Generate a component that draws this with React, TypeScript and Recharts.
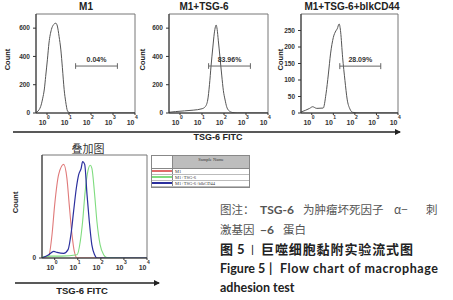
import React from 'react';
import { LineChart, Line, XAxis, YAxis, ReferenceLine, ReferenceArea } from 'recharts';

// log10 fluorescence (x) and event count (y)
const decades = [0, 1, 2, 3, 4];

const m1Log = [-0.5, -0.45, -0.35, -0.29, -0.2, -0.12, -0.06, 0.02, 0.09, 0.2, 0.3, 0.4, 0.47, 0.55, 0.63, 0.7, 0.78, 0.85, 0.93, 1.0, 1.1, 1.3, 2.0, 3.0, 4.0];
const m1Count = [2, 8, 25, 45, 100, 170, 259, 380, 495, 590, 625, 635, 615, 540, 446, 320, 165, 80, 15, 4, 1, 0, 0, 0, 0];

const tsgLog = [-0.5, -0.2, 0.2, 0.6, 1.0, 1.15, 1.26, 1.34, 1.41, 1.49, 1.56, 1.61, 1.64, 1.69, 1.74, 1.82, 1.9, 1.97, 2.05, 2.12, 2.2, 2.4, 2.6, 3.0, 4.0];
const tsgCount = [5, 10, 15, 20, 30, 45, 92, 200, 330, 460, 565, 610, 622, 590, 515, 390, 262, 160, 92, 45, 20, 3, 0, 0, 0];

const blkLog = [-0.5, -0.3, -0.1, 0.04, 0.23, 0.53, 0.66, 0.77, 0.87, 1.0, 1.12, 1.18, 1.27, 1.34, 1.43, 1.54, 1.64, 1.77, 1.9, 2.2, 3.0, 4.0];
const blkCount = [3, 8, 14, 19, 14, 15, 58, 118, 179, 229, 249, 255, 270, 245, 169, 98, 42, 12, 2, 0, 0, 0];

// overlay, % of max
const ovRedLog = [-0.55, -0.26, -0.12, 0, 0.17, 0.39, 0.53, 0.63, 0.75, 0.85, 0.97, 1.5, 4.0];
const ovRed = [0, 2, 24, 57, 89, 100, 85, 57, 25, 7, 0, 0, 0];
const ovBlueLog = [-0.55, -0.26, -0.04, 0.1, 0.39, 0.58, 0.72, 0.82, 0.94, 1.04, 1.15, 1.21, 1.3, 1.4, 1.5, 1.61, 1.73, 1.83, 2.5, 4.0];
const ovBlue = [0, 3.5, 7, 6, 5, 9, 28, 50, 75, 89, 96, 103, 100, 68, 39, 14, 3.5, 0, 0, 0];
const ovGreenLog = [-0.55, -0.2, 0.3, 0.97, 1.11, 1.21, 1.32, 1.44, 1.54, 1.61, 1.73, 1.83, 1.97, 2.12, 2.26, 3.0, 4.0];
const ovGreen = [1, 2, 2, 3.5, 18, 39, 71, 93, 99, 96, 68, 39, 14, 3.5, 0.5, 0, 0];

const gateLo = 1.3;
const gateHi = 3.2;

const toPoints = (xs: number[], ys: number[]) => xs.map((x, i) => ({ x, y: ys[i] }));

const axisFont = 'Liberation Sans, Arial, sans-serif';
const cjk = '"Noto Sans CJK SC", sans-serif';

const LogTick = (props: any) => {
  const { x, y, payload } = props;
  return (
    <g fontFamily={axisFont} fontWeight="bold" fill="#333">
      <text x={x - 0.5} y={y + 9} textAnchor="end" fontSize={7}>10</text>
      <text x={x} y={y + 3} fontSize={5}>{payload.value}</text>
    </g>
  );
};

// rotated "Count" title drawn inside the y axis area
const countLabel = (dx: number) => ({
  content: (p: any) => {
    const vb = p.viewBox || { x: 0, y: 0, width: 0, height: 0 };
    const cx = vb.x + dx;
    const cy = vb.y + vb.height * 0.46;
    return (
      <text x={cx} y={cy} transform={`rotate(-90, ${cx}, ${cy})`} textAnchor="middle"
        fontFamily={axisFont} fontWeight="bold" fontSize={7.5} fill="#222">Count</text>
    );
  },
});

const yTickStyle = { fontSize: 6.5, fontWeight: 'bold', fill: '#333', fontFamily: axisFont };

type HistProps = {
  data: { x: number; y: number }[];
  yMax: number;
  yTicks: number[];
  gateY: number;
  capH: number;
  gateText: string;
  right: number;
  labelX: number;
};

const Histogram = (props: HistProps) => (
  <LineChart width={140} height={132} margin={{ top: 14, right: props.right, bottom: 0, left: 0 }}>
    <XAxis type="number" dataKey="x" domain={[-0.5, 4]} ticks={decades} interval={0}
      tick={(p: any) => <LogTick {...p} />} tickSize={2} tickMargin={1} height={19}
      stroke="#333" allowDataOverflow />
    <YAxis type="number" domain={[0, props.yMax]} ticks={props.yTicks} width={36}
      tick={yTickStyle} tickSize={3} tickMargin={3} stroke="#333" allowDataOverflow
      label={countLabel(props.labelX)} />
    <ReferenceArea x1={-0.5} x2={4} y1={0} y2={props.yMax} fill="none" stroke="#777" strokeWidth={1} />
    <Line data={props.data} dataKey="y" type="monotone" dot={false} stroke="#555"
      strokeWidth={1} isAnimationActive={false} />
    <ReferenceLine segment={[{ x: gateLo, y: props.gateY }, { x: gateHi, y: props.gateY }]} stroke="#666"
      label={{ value: props.gateText, position: 'top', offset: 4, fontSize: 7, fontWeight: 'bold', fill: '#333', fontFamily: axisFont }} />
    <ReferenceLine segment={[{ x: gateLo, y: props.gateY - props.capH }, { x: gateLo, y: props.gateY + props.capH }]} stroke="#666" />
    <ReferenceLine segment={[{ x: gateHi, y: props.gateY - props.capH }, { x: gateHi, y: props.gateY + props.capH }]} stroke="#666" />
  </LineChart>
);

const Overlay = () => (
  <LineChart width={155} height={135} margin={{ top: 15, right: 8, bottom: 0, left: 0 }}>
    <XAxis type="number" dataKey="x" domain={[-0.55, 4]} ticks={decades} interval={0}
      tick={(p: any) => <LogTick {...p} />} tickSize={2} tickMargin={1} height={17}
      stroke="#333" allowDataOverflow />
    <YAxis type="number" domain={[0, 110]} ticks={[0]} width={42}
      tick={yTickStyle} tickSize={3} tickMargin={3} stroke="#333" allowDataOverflow
      label={countLabel(18)} />
    <ReferenceArea x1={-0.55} x2={4} y1={0} y2={110} fill="none" stroke="#777" strokeWidth={1} />
    <Line data={toPoints(ovRedLog, ovRed)} dataKey="y" type="monotone" dot={false}
      stroke="#e07a7a" strokeWidth={1.1} isAnimationActive={false} />
    <Line data={toPoints(ovGreenLog, ovGreen)} dataKey="y" type="monotone" dot={false}
      stroke="#7fdc7f" strokeWidth={1.1} isAnimationActive={false} />
    <Line data={toPoints(ovBlueLog, ovBlue)} dataKey="y" type="monotone" dot={false}
      stroke="#2b2f9e" strokeWidth={1.2} isAnimationActive={false} />
  </LineChart>
);

const legendRows = [
  { name: 'M1', color: '#e06a6a' },
  { name: 'M1+TSG-6', color: '#7fdc7f' },
  { name: 'M1+TSG-6+blkCD44', color: '#2b2f9e' },
];

const App = () => {
  const abs = (left: number, top: number): React.CSSProperties => ({ position: 'absolute', left, top });
  return (
    <div style={{ position: 'absolute', left: 0, top: 0, width: 453, height: 300, background: '#fff', overflow: 'hidden' }}>
      <div style={abs(0, 0)}>
        <Histogram data={toPoints(m1Log, m1Count)} yMax={700} yTicks={[0, 200, 400, 600]}
          gateY={332} capH={20} gateText="0.04%" right={5} labelX={10} />
      </div>
      <div style={abs(133, 0)}>
        <Histogram data={toPoints(tsgLog, tsgCount)} yMax={700} yTicks={[0, 200, 400, 600]}
          gateY={332} capH={20} gateText="83.96%" right={5} labelX={12} />
      </div>
      <div style={abs(265, 0)}>
        <Histogram data={toPoints(blkLog, blkCount)} yMax={300} yTicks={[0, 50, 100, 150, 200, 250]}
          gateY={142} capH={9} gateText="28.09%" right={7} labelX={18} />
      </div>
      <div style={abs(0, 140)}>
        <Overlay />
      </div>

      <div style={{ ...abs(151, 155), width: 97, border: '1px solid #888', background: '#fff', fontFamily: 'Liberation Serif, serif', fontSize: 4.5, color: '#333', lineHeight: '5px' }}>
        <div style={{ display: 'flex', height: 12, borderBottom: '1px solid #888' }}>
          <div style={{ width: 20, borderRight: '1px solid #888' }} />
          <div style={{ flex: 1, background: '#bdbdbd', textAlign: 'center', lineHeight: '8px' }}>Sample Name</div>
        </div>
        {legendRows.map((r) => (
          <div key={r.name} style={{ display: 'flex', height: 5, borderBottom: '1px solid #bbb' }}>
            <div style={{ width: 20, borderRight: '1px solid #888', position: 'relative' }}>
              <div style={{ position: 'absolute', left: 0, right: 0, top: 1, height: 2, background: r.color }} />
            </div>
            <div style={{ flex: 1, paddingLeft: 2, whiteSpace: 'nowrap', overflow: 'hidden' }}>{r.name}</div>
          </div>
        ))}
      </div>

      <svg width={453} height={300} style={{ ...abs(0, 0), pointerEvents: 'none' }}>
        <defs>
          <marker id="head" markerWidth="6" markerHeight="6" refX="5" refY="3" orient="auto" markerUnits="userSpaceOnUse">
            <path d="M0,0 L6,3 L0,6 Z" fill="#222" />
          </marker>
        </defs>
        <g fontFamily={axisFont} fontWeight="bold" fill="#222">
          <text x={86} y={10} textAnchor="middle" fontSize={10}>M1</text>
          <text x={204} y={10} textAnchor="middle" fontSize={10}>M1+TSG-6</text>
          <text x={352} y={10} textAnchor="middle" fontSize={10}>M1+TSG-6+blkCD44</text>
          <text x={218} y={140} textAnchor="middle" fontSize={9}>TSG-6 FITC</text>
          <text x={82} y={294} textAnchor="middle" fontSize={9.5}>TSG-6 FITC</text>
        </g>
        <line x1={13} y1={132} x2={400} y2={132} stroke="#222" strokeWidth={1.5} markerEnd="url(#head)" />
        <line x1={15} y1={283} x2={159} y2={283} stroke="#222" strokeWidth={1.5} markerEnd="url(#head)" />
        <text x={88} y={153} textAnchor="middle" fontSize={11} fontFamily={cjk} fill="#333">叠加图</text>

        <g fontFamily={cjk} fontSize={11.5} fill="#555">
          <text x={220} y={214}>图注：</text>
          <text x={260} y={214} fontWeight="bold" fontFamily="Lato, sans-serif" fontSize={12}>TSG-6</text>
          <text x={303} y={214}>为肿瘤坏死因子</text>
          <text x={394} y={214}>α−</text>
          <text x={426} y={214}>刺</text>
          <text x={220} y={234}>激基因</text>
          <text x={260} y={234} fontWeight="bold" fontFamily="Lato, sans-serif" fontSize={12}>−6</text>
          <text x={283} y={234}>蛋白</text>
        </g>
        <g fontFamily={cjk} fontSize={13} fill="#222" fontWeight="bold">
          <text x={220} y={254}>图</text>
          <text x={237} y={254} fontFamily="Lato, sans-serif">5</text>
          <text x={247} y={254} fontWeight="normal" fontSize={11}>丨</text>
          <text x={261} y={254} textLength={152}>巨噬细胞黏附实验流式图</text>
        </g>
        <g fontFamily="Lato, sans-serif" fontSize={12.5} fill="#222" fontWeight="bold">
          <text x={220} y={273}>Figure 5</text>
          <text x={269} y={273}>|</text>
          <text x={280} y={273} textLength={158}>Flow chart of macrophage</text>
          <text x={220} y={292}>adhesion test</text>
        </g>
      </svg>
    </div>
  );
};

export default App;
